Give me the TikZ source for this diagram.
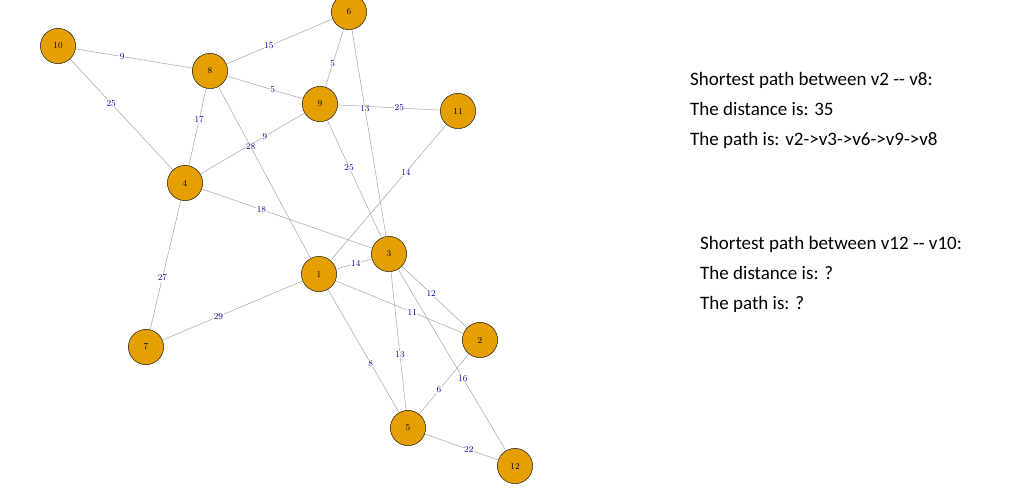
\documentclass[tikz,border=0pt]{standalone}
\usepackage{fontspec}
\newfontfamily\calib{Carlito}
\begin{document}
\begin{tikzpicture}[x=1pt,y=-1pt,
  v/.style={circle,draw=black!80,fill=orange!80!yellow!90!black,minimum size=35pt,inner sep=0pt,font=\fontsize{9}{9}\selectfont},
  e/.style={draw=black!35,line width=0.5pt},
  w/.style={font=\fontsize{9}{9}\selectfont,text=blue!60!black,fill=white,inner sep=0.5pt}]
\useasboundingbox (0,0) rectangle (1024,488);
\fill[white] (0,0) rectangle (1024,488);
\tikzset{v/.append style={fill={rgb,255:red,230;green,159;blue,0}}}
\node[v] (n10) at (58,46) {10};
\node[v] (n8) at (210,71) {8};
\node[v] (n6) at (349,12) {6};
\node[v] (n9) at (320,104) {9};
\node[v] (n11) at (458,111) {11};
\node[v] (n4) at (185,183) {4};
\node[v] (n3) at (389,254) {3};
\node[v] (n1) at (319,274) {1};
\node[v] (n2) at (480,340) {2};
\node[v] (n7) at (146,347) {7};
\node[v] (n5) at (408,428) {5};
\node[v] (n12) at (515,466) {12};
\begin{scope}[on background layer/.style={}]
\end{scope}
\foreach \a/\b/\l/\p in {n10/n8/9/0.4, n10/n4/25/0.4, n8/n6/15/0.4, n8/n9/5/0.6, n8/n4/17/0.4,
  n8/n1/28/0.35, n6/n9/5/0.6, n6/n3/13/0.38, n9/n11/25/0.6, n9/n4/9/0.38, n9/n3/25/0.4,
  n11/n1/14/0.35, n4/n3/18/0.35, n4/n7/27/0.6, n1/n3/14/0.55, n1/n7/29/0.6, n1/n2/11/0.6,
  n1/n5/8/0.6, n3/n2/12/0.45, n3/n5/13/0.6, n3/n12/16/0.6, n2/n5/6/0.6, n5/n12/22/0.6}
  { \path[e] (\a) -- node[w,pos=\p]{\l} (\b); }
\foreach \n in {n10,n8,n6,n9,n11,n4,n3,n1,n2,n7,n5,n12}
  { \node[v] at (\n) {\pgfmathparse{0}}; }
\node[v] at (n10) {10}; \node[v] at (n8) {8}; \node[v] at (n6) {6}; \node[v] at (n9) {9};
\node[v] at (n11) {11}; \node[v] at (n4) {4}; \node[v] at (n3) {3}; \node[v] at (n1) {1};
\node[v] at (n2) {2}; \node[v] at (n7) {7}; \node[v] at (n5) {5}; \node[v] at (n12) {12};
\node[anchor=north west,align=left,font=\calib\fontsize{19}{30}\selectfont,inner sep=0pt] (t1) at (690,72)
 {Shortest path between v2 -- v8:\\The distance is: 35\\The path is: v2->v3->v6->v9->v8};
\node[anchor=north west,align=left,font=\calib\fontsize{19}{30}\selectfont,inner sep=0pt] (t2) at (700,236)
 {Shortest path between v12 -- v10:\\The distance is: ?\\The path is: ?};
\end{tikzpicture}
\end{document}
